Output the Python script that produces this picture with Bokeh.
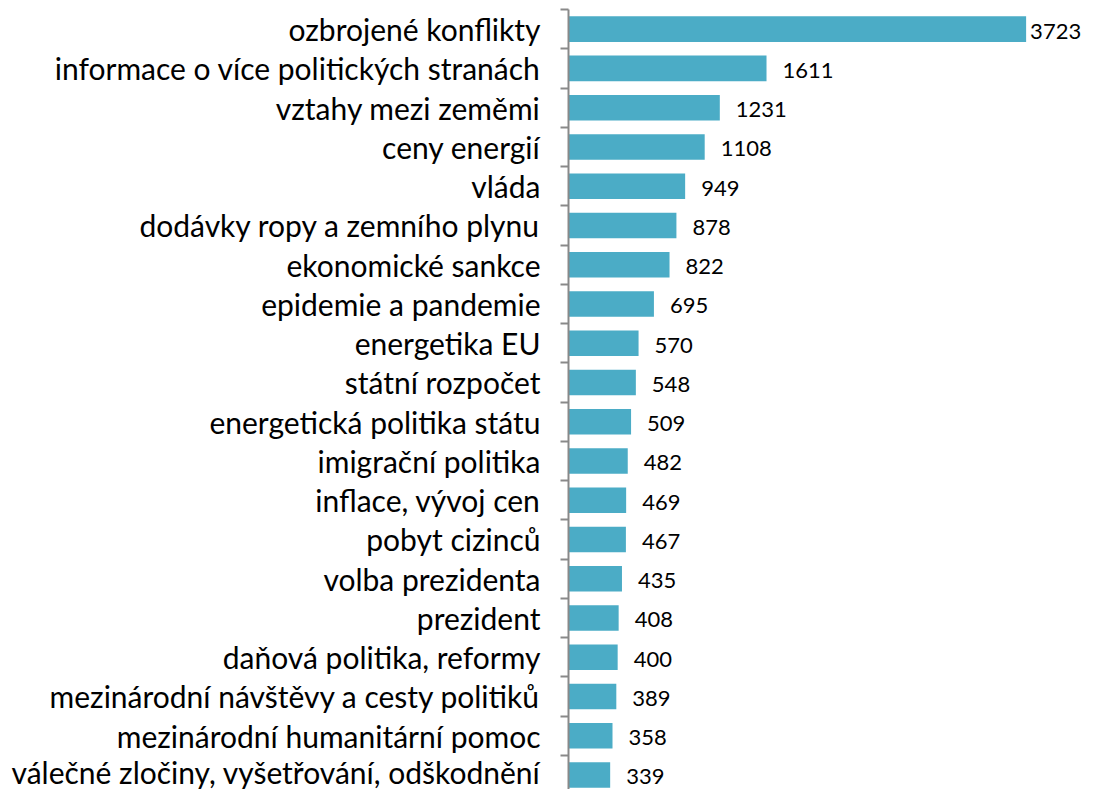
from bokeh.plotting import figure
from bokeh.models import Range1d, LinearAxis, FixedTicker, ColumnDataSource
from bokeh.core.properties import value
from bokeh.embed import file_html
from bokeh.resources import INLINE

categories = [
    "ozbrojené konflikty",
    "informace o více politických stranách",
    "vztahy mezi zeměmi",
    "ceny energií",
    "vláda",
    "dodávky ropy a zemního plynu",
    "ekonomické sankce",
    "epidemie a pandemie",
    "energetika EU",
    "státní rozpočet",
    "energetická politika státu",
    "imigrační politika",
    "inflace, vývoj cen",
    "pobyt cizinců",
    "volba prezidenta",
    "prezident",
    "daňová politika, reformy",
    "mezinárodní návštěvy a cesty politiků",
    "mezinárodní humanitární pomoc",
    "válečné zločiny, vyšetřování, odškodnění",
]
counts = [3723, 1611, 1231, 1108, 949, 878, 822, 695, 570, 548,
          509, 482, 469, 467, 435, 408, 400, 389, 358, 339]

FONT = "Lato"
BAR = "#4BACC6"
AXIS = "#898989"

n = len(categories)
pos = list(range(n))
offsets = [4 if c == max(counts) else 16 for c in counts]

src = ColumnDataSource(dict(
    y=pos, v=counts, lab=[str(c) for c in counts], off=offsets,
))

p = figure(
    frame_width=531, frame_height=780,
    x_range=Range1d(0, 4320), y_range=Range1d(n - 0.63, -0.5),
    x_axis_location=None, y_axis_location=None,
    output_backend="svg", toolbar_location=None,
    min_border_left=568, min_border_right=0, min_border_top=9, min_border_bottom=0,
    outline_line_color=None, background_fill_color="white", border_fill_color="white",
)
p.grid.visible = False

p.hbar(y="y", right="v", left=0, height=0.65, source=src,
       fill_color=BAR, line_color=None)

p.text(x="v", y="y", text="lab", x_offset="off", y_offset=2, source=src,
       text_align="left", text_baseline="middle",
       text_font=value(FONT), text_font_size="22px", text_color="black")

bounds = [i - 0.5 for i in range(n + 1)]
tick_axis = LinearAxis(
    ticker=FixedTicker(ticks=bounds),
    major_label_overrides={b: "" for b in bounds},
    major_tick_out=8, major_tick_in=0, minor_tick_line_color=None,
    major_tick_line_color=AXIS, major_tick_line_width=2,
    axis_line_color=AXIS, axis_line_width=2,
    major_label_standoff=0, major_label_text_font_size="1px",
)
label_axis = LinearAxis(
    ticker=FixedTicker(ticks=pos),
    major_label_overrides={i: c for i, c in zip(pos, categories)},
    major_tick_line_color=None, minor_tick_line_color=None,
    major_tick_out=0, major_tick_in=0,
    axis_line_color=None,
    major_label_standoff=20,
    major_label_text_font=FONT, major_label_text_font_size="30px",
    major_label_text_color="black",
)
p.add_layout(tick_axis, "left")
p.add_layout(label_axis, "left")

open("out.html", "w").write(file_html(p, INLINE))
